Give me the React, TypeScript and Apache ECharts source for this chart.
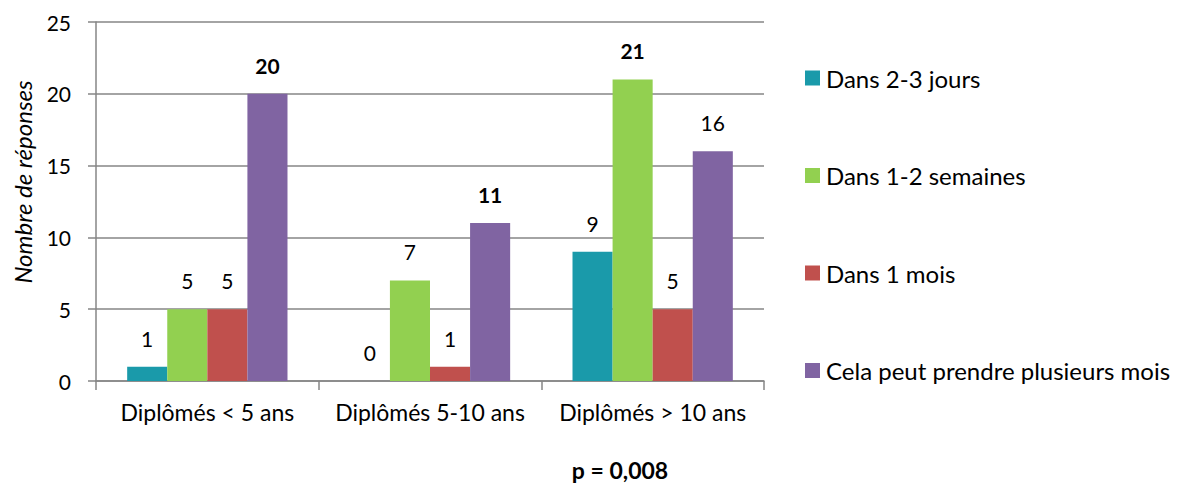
import React, { useEffect, useRef } from "react";
import * as echarts from "echarts";

const categories = ["Diplômés < 5 ans", "Diplômés 5-10 ans", "Diplômés > 10 ans"];
const seriesNames = ["Dans 2-3 jours", "Dans 1-2 semaines", "Dans 1 mois", "Cela peut prendre plusieurs mois"];
const jours = [1, 0, 9];
const semaines = [5, 7, 21];
const mois = [5, 1, 5];
const plusieurs = [20, 11, 16];
const boldLabels = [
  [false, false, false],
  [false, false, true],
  [false, false, false],
  [true, true, false],
];
const colors = ["#1a9aaa", "#92d050", "#c0504d", "#8064a2"];
const FONT = "Lato, sans-serif";

export default function App() {
  const ref = useRef<HTMLDivElement>(null);
  useEffect(() => {
    const chart = echarts.init(ref.current!, null, { renderer: "svg" });
    const allData = [jours, semaines, mois, plusieurs];
    chart.setOption({
      animation: false,
      textStyle: { fontFamily: FONT },
      grid: { left: 96, top: 22, right: 428, bottom: 105 },
      legend: {
        orient: "vertical",
        left: 800,
        top: 61,
        itemWidth: 15,
        itemHeight: 15,
        itemGap: 73.5,
        icon: "rect",
        textStyle: { fontSize: 24, color: "#000", fontFamily: FONT, lineHeight: 24, padding: [0, 0, 0, 1] },
        data: seriesNames,
      },
      xAxis: {
        type: "category",
        data: categories,
        axisLine: { lineStyle: { color: "#868686", width: 1.5 } },
        axisTick: { show: true, length: 9, lineStyle: { color: "#868686", width: 1.5 } },
        axisLabel: { fontSize: 23, color: "#000", margin: 19, fontFamily: FONT, interval: 0 },
      },
      yAxis: {
        type: "value",
        min: 0,
        max: 25,
        interval: 5,
        axisLine: { show: true, lineStyle: { color: "#868686", width: 1.5 } },
        axisTick: { show: true, length: 8, lineStyle: { color: "#868686", width: 1.5 } },
        axisLabel: { fontSize: 21, color: "#000", margin: 25, fontFamily: FONT },
        splitLine: { lineStyle: { color: "#868686", width: 1.5 } },
      },
      series: allData.map((d, si) => ({
        name: seriesNames[si],
        type: "bar",
        barGap: "0%",
        barCategoryGap: "28%",
        itemStyle: { color: colors[si] },
        label: {
          show: true,
          position: "top",
          distance: 18,
          fontSize: 21,
          color: "#000",
          fontFamily: FONT,
        },
        data: d.map((v, i) => ({
          value: v,
          label: { fontWeight: boldLabels[si][i] ? "bold" : "normal" },
        })),
      })),
      graphic: [
        {
          type: "text",
          x: 22,
          y: 182,
          rotation: Math.PI / 2,
          style: {
            text: "Nombre de réponses",
            fontSize: 24,
            fontStyle: "italic",
            fill: "#000",
            fontFamily: FONT,
            textAlign: "center",
            textVerticalAlign: "middle",
          },
        },
        {
          type: "text",
          x: 620,
          y: 470,
          style: {
            text: "p = 0,008",
            fontSize: 23,
            fontWeight: "bold",
            fill: "#000",
            fontFamily: FONT,
            textAlign: "center",
            textVerticalAlign: "middle",
          },
        },
      ],
    });
    return () => chart.dispose();
  }, []);
  return <div ref={ref} style={{ position: "absolute", left: 0, top: 0, width: 1192, height: 486 }} />;
}
